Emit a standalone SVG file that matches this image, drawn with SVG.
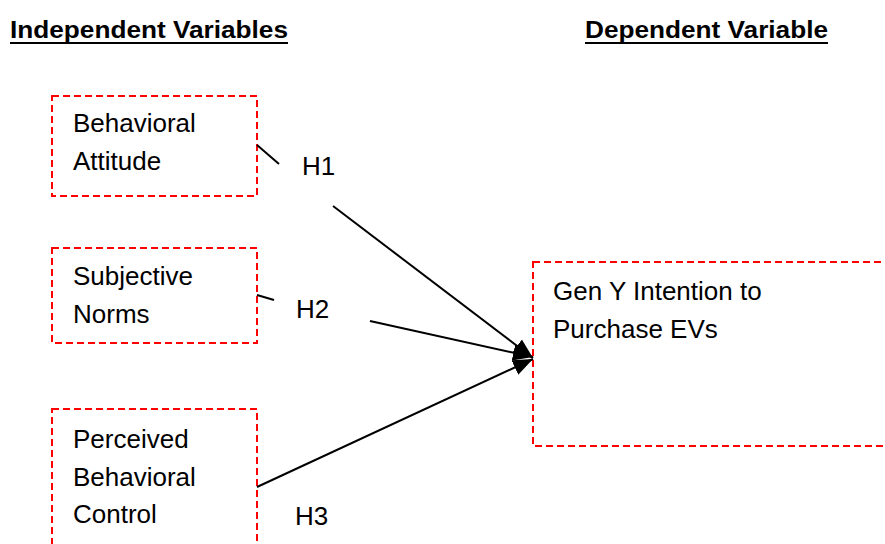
<svg xmlns="http://www.w3.org/2000/svg" width="885" height="544" viewBox="0 0 885 544">
<defs>
<style>
.box{fill:none;stroke:#ff0000;stroke-width:2;stroke-dasharray:7 4}
.t{font-family:"Liberation Sans",Arial,sans-serif;font-size:26px;fill:#000}
.h{font-family:"Liberation Sans",Arial,sans-serif;font-size:23px;font-weight:bold;fill:#000}
.c{stroke:#000;stroke-width:2;fill:none}
</style>
<marker id="ah" markerUnits="userSpaceOnUse" markerWidth="22" markerHeight="16" refX="20" refY="8" orient="auto">
<path d="M0,0 L20,8 L0,16 Z" fill="#000"/>
</marker>
</defs>
<rect width="885" height="544" fill="#fff"/>
<g id="headers">
<text class="h" x="10" y="38" textLength="278" lengthAdjust="spacingAndGlyphs">Independent Variables</text>
<line x1="10" y1="43" x2="288" y2="43" stroke="#000" stroke-width="2"/>
<text class="h" x="585" y="38" textLength="243" lengthAdjust="spacingAndGlyphs">Dependent Variable</text>
<line x1="585" y1="43" x2="828" y2="43" stroke="#000" stroke-width="2"/>
</g>
<g id="n1">
<rect class="box" x="52" y="96" width="205" height="100"/>
<text class="t" x="73" y="132">Behavioral</text>
<text class="t" x="73" y="170">Attitude</text>
</g>
<g id="n2">
<rect class="box" x="52" y="248" width="205" height="95"/>
<text class="t" x="73" y="285">Subjective</text>
<text class="t" x="73" y="323">Norms</text>
</g>
<g id="n3">
<rect class="box" x="52" y="409" width="205" height="160"/>
<text class="t" x="73" y="448">Perceived</text>
<text class="t" x="73" y="486">Behavioral</text>
<text class="t" x="73" y="523">Control</text>
</g>
<g id="n4">
<rect class="box" x="533" y="262" width="380" height="184"/>
<text class="t" x="553" y="300">Gen Y Intention to</text>
<text class="t" x="553" y="338">Purchase EVs</text>
</g>
<g id="connectors">
<line class="c" x1="257" y1="145" x2="279" y2="164"/>
<line class="c" x1="333" y1="206" x2="533" y2="358" marker-end="url(#ah)"/>
<line class="c" x1="257" y1="295" x2="274" y2="300"/>
<line class="c" x1="370" y1="321" x2="533" y2="357" marker-end="url(#ah)"/>
<line class="c" x1="257" y1="487" x2="533" y2="359" marker-end="url(#ah)"/>
<text class="t" x="302" y="175">H1</text>
<text class="t" x="296" y="318">H2</text>
<text class="t" x="295" y="525">H3</text>
</g>
</svg>
